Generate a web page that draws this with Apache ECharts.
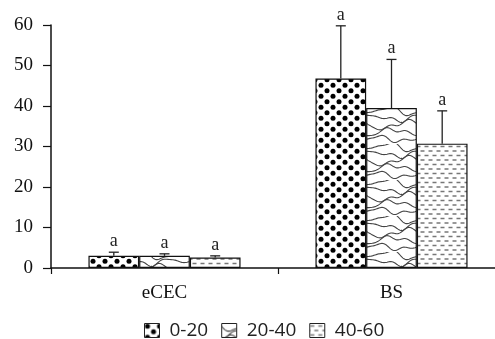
<!DOCTYPE html>
<html>
<head>
<meta charset="utf-8">
<script src="https://cdn.jsdelivr.net/npm/echarts@6/dist/echarts.min.js"></script>
<style>html,body{margin:0;padding:0;background:#fff;overflow:hidden;}#c{width:495px;height:339px;}</style>
</head>
<body>
<div id="c"></div>
<script>
const categories = ['eCEC', 'BS'];
const seriesNames = ['0-20', '20-40', '40-60'];
const meanValues = [
  [3.0, 46.8],
  [3.0, 39.5],
  [2.6, 30.7]
];
const errorTops = [
  [3.9, 59.8],
  [3.5, 51.5],
  [3.0, 38.8]
];
const letters = [
  ['a', 'a'],
  ['a', 'a'],
  ['a', 'a']
];
const yTicks = [0, 10, 20, 30, 40, 50, 60];

const GAP = 0.33;

function makeTile(w, h, draw) {
  const c = document.createElement('canvas');
  c.width = w; c.height = h;
  const ctx = c.getContext('2d');
  ctx.fillStyle = '#fff';
  ctx.fillRect(0, 0, w, h);
  draw(ctx, w, h);
  return { image: c, repeat: 'repeat' };
}

const dotsPattern = makeTile(12, 11, (ctx, w, h) => {
  ctx.fillStyle = '#000';
  const base = [[3, 2.8], [9, 8.3]];
  base.forEach(p => {
    for (let dx = -1; dx <= 1; dx++) for (let dy = -1; dy <= 1; dy++) {
      ctx.beginPath(); ctx.arc(p[0] + dx * w, p[1] + dy * h, 2.5, 0, Math.PI * 2); ctx.fill();
    }
  });
});

const wavePattern = makeTile(50, 36, (ctx, w, h) => {
  ctx.strokeStyle = '#444';
  ctx.lineWidth = 1.1;
  const rows = [3, 10, 17, 24, 31];
  const amps = [3.5, 2.5, 4, 3, 2.2];
  rows.forEach((b, i) => {
    ctx.beginPath();
    for (let x = -2; x <= w + 2; x++) {
      const t = (x / w) * Math.PI * 2;
      const y = b + amps[i] * Math.sin(t + i * 1.9) + 1.6 * Math.sin(2 * t + i * 0.8) + 0.8 * Math.sin(3 * t + i);
      if (x === -2) ctx.moveTo(x, y); else ctx.lineTo(x, y);
    }
    ctx.stroke();
  });
});

const dashPattern = makeTile(8, 9, (ctx) => {
  ctx.strokeStyle = '#777';
  ctx.lineWidth = 1.3;
  ctx.beginPath();
  ctx.moveTo(0.5, 2.5); ctx.lineTo(4.5, 2.5);
  ctx.moveTo(4.5, 7); ctx.lineTo(8, 7);
  ctx.moveTo(0, 7); ctx.lineTo(0.5, 7);
  ctx.stroke();
});

const patterns = [dotsPattern, wavePattern, dashPattern];

const chart = echarts.init(document.getElementById('c'), null, { renderer: 'canvas' });

const series = [];
seriesNames.forEach((name, k) => {
  series.push({
    name: name,
    type: 'bar',
    data: meanValues[k],
    barGap: '0%',
    barCategoryGap: (GAP * 100) + '%',
    itemStyle: { color: patterns[k], borderColor: '#111', borderWidth: 1.2 },
    z: 2
  });
});
seriesNames.forEach((name, k) => {
  series.push({
    type: 'custom',
    name: 'err' + k,
    data: categories.map((c, i) => [i, meanValues[k][i], errorTops[k][i]]),
    encode: { x: 0, y: 2 },
    z: 5,
    silent: true,
    renderItem: function (params, api) {
      const cat = api.value(0);
      const base = api.coord([cat, api.value(1)]);
      const top = api.coord([cat, api.value(2)]);
      const band = api.size([1, 0])[0];
      const barW = band * (1 - GAP) / 3;
      const x = base[0] + (k - 1) * barW;
      const lbl = letters[k][cat];
      return {
        type: 'group',
        children: [
          { type: 'line', shape: { x1: x, y1: base[1], x2: x, y2: top[1] }, style: { stroke: '#222', lineWidth: 1.3 } },
          { type: 'line', shape: { x1: x - 5, y1: top[1], x2: x + 5, y2: top[1] }, style: { stroke: '#222', lineWidth: 1.3 } },
          { type: 'text', x: x, y: top[1] - 2, style: { text: lbl, textAlign: 'center', textVerticalAlign: 'bottom', font: '18px "Liberation Serif"', fill: '#222' } }
        ]
      };
    }
  });
});

chart.setOption({
  animation: false,
  backgroundColor: '#fff',
  grid: { left: 51, top: 25, width: 454, bottom: 71, containLabel: false, outerBoundsMode: 'none' },
  legend: {
    data: seriesNames,
    top: 316,
    left: 139,
    icon: 'rect',
    itemWidth: 15,
    itemHeight: 14,
    itemGap: 13,
    textStyle: { fontFamily: 'Open Sans', fontSize: 19, color: '#222', padding: [0, 0, 0, 5] },
    itemStyle: { borderColor: '#222', borderWidth: 1 }
  },
  xAxis: {
    type: 'category',
    data: categories,
    axisLine: { lineStyle: { color: '#111', width: 1.5 } },
    axisTick: { show: true, length: 6, lineStyle: { color: '#111', width: 1.2 } },
    axisLabel: { fontFamily: 'Liberation Serif', fontSize: 19, color: '#111', margin: 16 },
    splitLine: { show: false }
  },
  yAxis: {
    type: 'value',
    min: yTicks[0],
    max: yTicks[yTicks.length - 1],
    interval: 10,
    axisLine: { show: true, lineStyle: { color: '#111', width: 1.5 } },
    axisTick: { show: true, length: 8, lineStyle: { color: '#111', width: 1.2 } },
    axisLabel: { fontFamily: 'Liberation Serif', fontSize: 19, color: '#111', margin: 18 },
    splitLine: { show: false }
  },
  series: series
});
</script>
</body>
</html>
